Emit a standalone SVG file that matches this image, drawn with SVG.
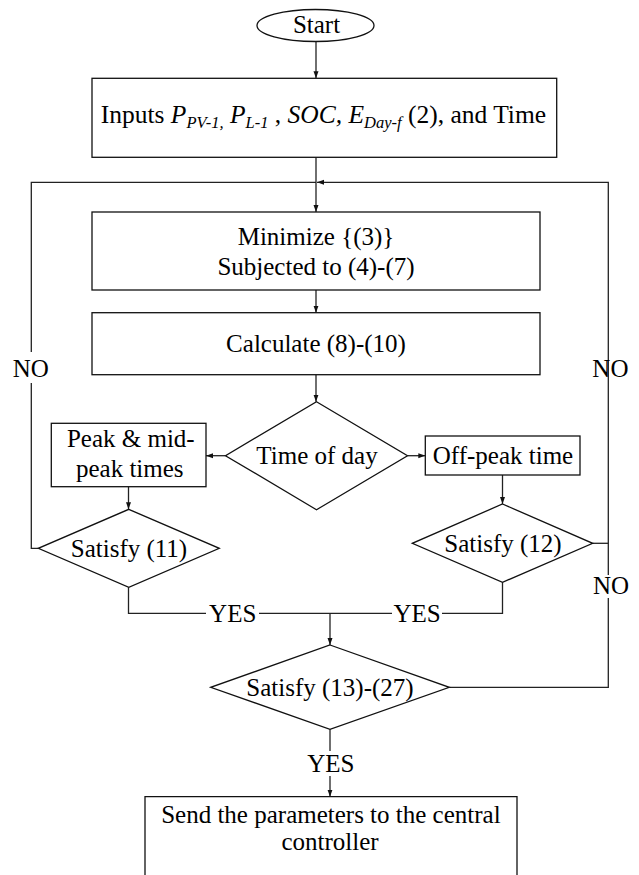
<svg xmlns="http://www.w3.org/2000/svg" width="639" height="875" viewBox="0 0 639 875">
<defs>
<marker id="ah" markerUnits="userSpaceOnUse" markerWidth="7" markerHeight="6" refX="7" refY="3" orient="auto">
<path d="M0,0.5 L7,3 L0,5.5 z" fill="#111"/>
</marker>
<style>
.shape{fill:#fff;stroke:#111;stroke-width:1.3}
.line{fill:none;stroke:#222;stroke-width:1.3}
.arr{fill:none;stroke:#222;stroke-width:1.3;marker-end:url(#ah)}
text{font-family:"Liberation Serif","Times New Roman",serif;font-size:25px;fill:#000}
.c{text-anchor:middle}
.it{font-style:italic}
.sub{font-style:italic;font-size:16.5px}
.big{font-size:25.5px}
</style>
</defs>
<rect width="639" height="875" fill="#fff"/>

<g id="connectors">
<path class="arr" d="M316 41.5 V78.3"/>
<path class="arr" d="M316 157.3 V212"/>
<path class="arr" d="M608.3 575 V182.3 H317"/>
<path class="line" d="M449.3 687.3 H608.3 V598"/>
<path class="line" d="M592.7 543.3 H608.3"/>
<path class="line" d="M38.3 548.3 H31.3 V383"/>
<path class="line" d="M31.3 352 V182.3 H316"/>
<path class="arr" d="M316 290 V312.7"/>
<path class="arr" d="M316 374.7 V401.7"/>
<path class="arr" d="M225.5 455.7 H206"/>
<path class="arr" d="M407.5 455.7 H425.3"/>
<path class="arr" d="M128.5 486.7 V509.3"/>
<path class="arr" d="M502.5 475 V504"/>
<path class="line" d="M128.5 587.3 V613.3 H206"/>
<path class="line" d="M259 613.3 H392"/>
<path class="line" d="M442 613.3 H502.5 V582.3"/>
<path class="arr" d="M330 613.3 V645"/>
<path class="line" d="M330 729.3 V751"/>
<path class="arr" d="M330 776 V796.7"/>
<text class="c" x="30.7" y="377">NO</text>
<text class="c" x="610.4" y="377">NO</text>
<text class="c" x="611" y="594">NO</text>
<text class="c" x="232.7" y="621.7">YES</text>
<text class="c" x="417" y="621.7">YES</text>
<text class="c" x="330.8" y="771.7">YES</text>
</g>

<g id="start">
<ellipse class="shape" cx="315.5" cy="25.5" rx="58.5" ry="16"/>
<text class="c" x="316.5" y="33.3">Start</text>
</g>

<g id="inputs">
<rect class="shape" x="92" y="78.3" width="464.7" height="79"/>
<text class="big" x="100.7" y="123.3">Inputs <tspan class="it">P</tspan><tspan class="sub" dy="5">PV-1,</tspan><tspan dy="-5"> </tspan><tspan class="it">P</tspan><tspan class="sub" dy="5">L-1</tspan><tspan dy="-5"> , </tspan><tspan class="it">SOC, E</tspan><tspan class="sub" dy="5">Day-f</tspan><tspan dy="-5"> (2), and Time</tspan></text>
</g>

<g id="minimize">
<rect class="shape" x="92" y="212" width="448" height="78"/>
<text class="c" x="316" y="244.5">Minimize {(3)}</text>
<text class="c" x="316" y="274.5">Subjected to (4)-(7)</text>
</g>

<g id="calculate">
<rect class="shape" x="92" y="312.7" width="448" height="62"/>
<text class="c" x="316" y="352">Calculate (8)-(10)</text>
</g>

<g id="time-of-day">
<polygon class="shape" points="316.5,401.7 407.5,455.7 316.5,509.7 225.5,455.7"/>
<text class="c" x="317" y="464">Time of day</text>
</g>

<g id="peak">
<rect class="shape" x="51.3" y="423.3" width="154.7" height="63.4"/>
<text class="c" x="130.8" y="447">Peak &amp; mid-</text>
<text class="c" x="129.8" y="477.3">peak times</text>
</g>

<g id="off-peak">
<rect class="shape" x="425.3" y="436" width="154.7" height="39"/>
<text class="c" x="503" y="464">Off-peak time</text>
</g>

<g id="satisfy-11">
<polygon class="shape" points="128.8,509.3 219.3,548.3 128.8,587.3 38.3,548.3"/>
<text class="c" x="129" y="557.3">Satisfy (11)</text>
</g>

<g id="satisfy-12">
<polygon class="shape" points="502.5,504 592.7,543.3 502.5,582.3 412.3,543.3"/>
<text class="c" x="503" y="552">Satisfy (12)</text>
</g>

<g id="satisfy-13-27">
<polygon class="shape" points="330,645 449.3,687.3 330,729.3 210.7,687.3"/>
<text class="c" x="330" y="696">Satisfy (13)-(27)</text>
</g>

<g id="send">
<path class="shape" d="M145 880 V796.7 H517 V880"/>
<text class="c" x="330.9" y="823">Send the parameters to the central</text>
<text class="c" x="330" y="850">controller</text>
</g>
</svg>
